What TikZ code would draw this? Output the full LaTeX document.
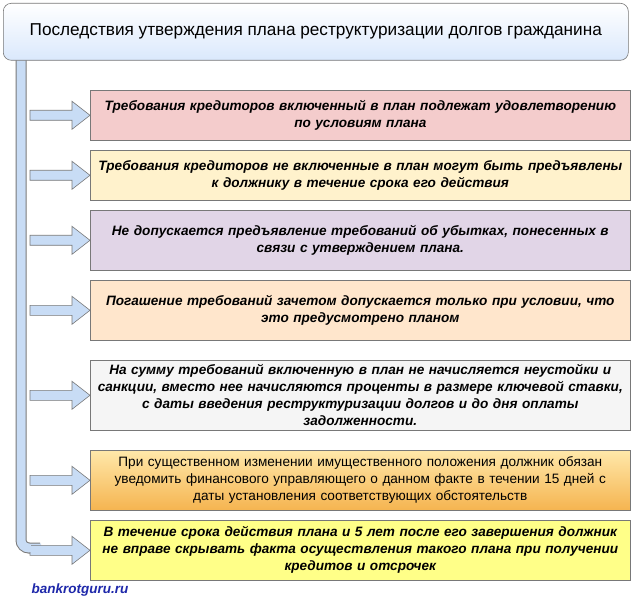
\documentclass[tikz,border=0pt]{standalone}
\usepackage{fontspec}
\setmainfont{Liberation Sans}
\usetikzlibrary{positioning}
\definecolor{titleblue}{RGB}{218,232,252}
\definecolor{barblue}{RGB}{200,220,245}
\definecolor{pinkred}{RGB}{244,204,204}
\definecolor{paleyellow}{RGB}{255,242,204}
\definecolor{lavender}{RGB}{225,213,231}
\definecolor{paleorange}{RGB}{255,230,204}
\definecolor{palegray}{RGB}{245,245,245}
\definecolor{brightyellow}{RGB}{255,255,136}
\definecolor{orangetop}{RGB}{255,232,170}
\definecolor{orangebot}{RGB}{245,180,80}
\definecolor{linkblue}{RGB}{30,40,170}
\definecolor{edgegray}{RGB}{120,120,120}

\begin{document}
\begin{tikzpicture}[x=1pt, y=-1pt]
\tikzstyle{item} = [rectangle, anchor=north west, minimum width=540pt, text width=538pt, inner xsep=1pt, align=center, draw=edgegray, line width=.6pt, font=\fontsize{13.6}{17}\selectfont\bfseries\itshape]
\tikzstyle{arr} = [draw=edgegray, fill=barblue, line width=.6pt]

\useasboundingbox (0,0) rectangle (631,601);
\fill[white] (0,0) rectangle (631,601);

% vertical bar with bend into the last arrow
\draw[edgegray, line width=11pt, rounded corners=8pt] (21,60) -- (21,548) -- (40,548);
\draw[barblue, line width=9pt, rounded corners=8pt] (21,58) -- (21,548) -- (41,548);

\node (title) [rectangle, rounded corners=8pt, anchor=north west, minimum width=625pt, minimum height=57pt, draw=edgegray, line width=.6pt, top color=white, bottom color=titleblue, font=\fontsize{17.2}{20}\selectfont] at (3,3) {Последствия утверждения плана реструктуризации долгов гражданина};

\node (b1) [item, fill=pinkred, minimum height=50pt] at (90,90) {Требования кредиторов включенный в план подлежат удовлетворению\\по условиям плана};
\node (b2) [item, fill=paleyellow, minimum height=50pt] at (90,150) {Требования кредиторов не включенные в план могут быть предъявлены\\к должнику в течение срока его действия};
\node (b3) [item, fill=lavender, minimum height=60pt] at (90,210) {Не допускается предъявление требований об убытках, понесенных в\\связи с утверждением плана.};
\node (b4) [item, fill=paleorange, minimum height=60pt] at (90,280) {Погашение требований зачетом допускается только при условии, что\\это предусмотрено планом};
\node (b5) [item, fill=palegray, minimum height=70pt] at (90,360) {На сумму требований включенную в план не начисляется неустойки и\\санкции, вместо нее начисляются проценты в размере ключевой ставки,\\с даты введения реструктуризации долгов и до дня оплаты\\задолженности.};
\node (b6) [item, top color=orangetop, bottom color=orangebot, minimum height=60pt, font=\fontsize{13.6}{17}\selectfont] at (90,450) {При существенном изменении имущественного положения должник обязан\\уведомить финансового управляющего о данном факте в течении 15 дней с\\даты установления соответствующих обстоятельств};
\node (b7) [item, fill=brightyellow, minimum height=60pt] at (90,520) {В течение срока действия плана и 5 лет после его завершения должник\\не вправе скрывать факта осуществления такого плана при получении\\кредитов и отсрочек};

% arrows into the boxes
\foreach \b in {b1,b2,b3,b4,b5,b6,b7}{
  \path (\b.west) coordinate (tip);
  \draw[arr] (tip) -- ++(-18,-14) -- ++(0,9) -- ++(-42,0) -- ++(0,10) -- ++(42,0) -- ++(0,9) -- cycle;
}
\fill[barblue] (26,544) rectangle (31,552);

\node (site) [anchor=west, text=linkblue, font=\fontsize{13.5}{16}\selectfont\bfseries\itshape] at (28,590) {bankrotguru.ru};
\end{tikzpicture}
\end{document}
